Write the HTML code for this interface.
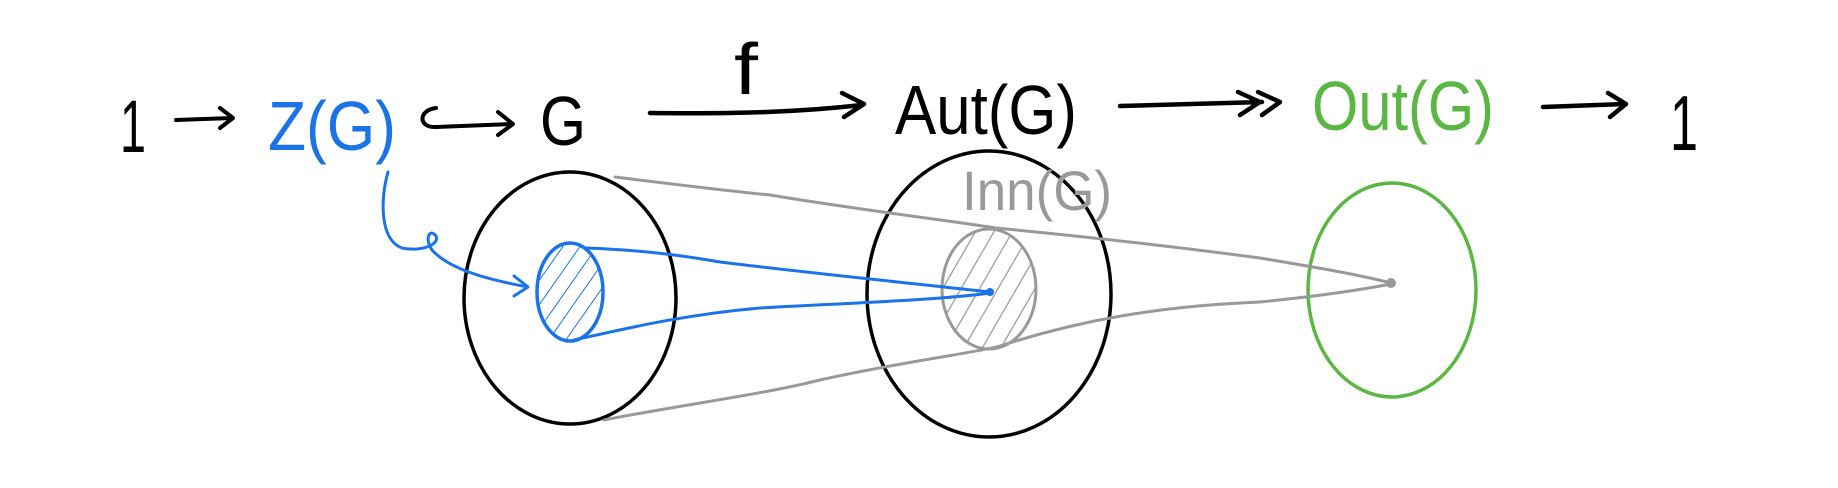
<!DOCTYPE html>
<html><head><meta charset="utf-8"><style>
html,body{margin:0;padding:0;background:#fff;}
svg{display:block;}
text{font-family:"Liberation Sans",sans-serif;}
</style></head><body>
<svg width="1838" height="488" viewBox="0 0 1838 488" xmlns="http://www.w3.org/2000/svg">
<defs>
<pattern id="hb" patternUnits="userSpaceOnUse" width="14" height="14" patternTransform="rotate(35)">
<line x1="0" y1="0" x2="0" y2="14" stroke="#1a73e8" stroke-width="2"/></pattern>
<pattern id="hg" patternUnits="userSpaceOnUse" width="16" height="16" patternTransform="rotate(30)">
<line x1="0" y1="0" x2="0" y2="16" stroke="#999" stroke-width="2.5"/></pattern>
</defs>
<g fill="none" stroke-linecap="round" stroke-linejoin="round">
<text x="120" y="152" font-size="74" fill="#000" stroke="none" textLength="26" lengthAdjust="spacingAndGlyphs">1</text>
<path d="M176 120 L232 118 M220 108 L233 118 L220 128" stroke="#000" stroke-width="4"/>
<text x="268" y="150" font-size="70" fill="#1a73e8" stroke="none" textLength="128" lengthAdjust="spacingAndGlyphs">Z(G)</text>
<path d="M436 108 C418 110 418 128 436 127 L512 124 M498 112 L513 124 L498 135" stroke="#000" stroke-width="4"/>
<text x="540" y="145" font-size="70" fill="#000" stroke="none" textLength="46" lengthAdjust="spacingAndGlyphs">G</text>
<text x="734" y="94" font-size="72" fill="#000" stroke="none" textLength="24" lengthAdjust="spacingAndGlyphs">f</text>
<path d="M650 113 C740 114 800 112 862 105 M842 93 L864 104 L844 117" stroke="#000" stroke-width="4.5"/>
<text x="895" y="134" font-size="70" fill="#000" stroke="none" textLength="182" lengthAdjust="spacingAndGlyphs">Aut(G)</text>
<path d="M1120 106 L1262 102 M1238 92 L1260 102 L1240 115 M1258 92 L1280 102 L1262 115" stroke="#000" stroke-width="4.5"/>
<text x="1312" y="130" font-size="70" fill="#5bb744" stroke="none" textLength="182" lengthAdjust="spacingAndGlyphs">Out(G)</text>
<path d="M1543 107 L1625 104 M1608 93 L1626 104 L1610 117" stroke="#000" stroke-width="4.5"/>
<text x="1670" y="150" font-size="78" fill="#000" stroke="none" textLength="28" lengthAdjust="spacingAndGlyphs">1</text>

<ellipse cx="570" cy="298" rx="106" ry="126" stroke="#000" stroke-width="3.5"/>
<ellipse cx="989" cy="294" rx="122" ry="143" stroke="#000" stroke-width="3.5"/>
<ellipse cx="1392" cy="290" rx="84" ry="107" stroke="#5bb744" stroke-width="3.5"/>
<ellipse cx="570" cy="292" rx="33" ry="49" fill="url(#hb)" stroke="#1a73e8" stroke-width="3.5"/>
<ellipse cx="989" cy="289" rx="47" ry="60" fill="url(#hg)" stroke="#999" stroke-width="3"/>
<text x="962" y="210" font-size="56" fill="#999" stroke="none" textLength="150" lengthAdjust="spacingAndGlyphs">Inn(G)</text>
<path d="M615 177 C680 185 720 190 770 195 C860 210 960 222 996 228 C1100 238 1200 250 1260 258 C1320 268 1360 275 1391 283" stroke="#999" stroke-width="3"/>
<path d="M604 420 C680 405 760 395 820 380 C900 362 980 352 1000 346 C1080 320 1160 306 1260 302 C1320 296 1360 290 1391 284" stroke="#999" stroke-width="3"/>
<circle cx="1391" cy="283" r="5" fill="#999" stroke="none"/>
<path d="M586 248 C640 250 680 255 720 262 C800 272 900 282 990 292" stroke="#1a73e8" stroke-width="3"/>
<path d="M574 340 C620 330 680 315 760 308 C850 303 940 300 990 293" stroke="#1a73e8" stroke-width="3"/>
<circle cx="990" cy="292" r="4" fill="#1a73e8" stroke="none"/>
<path d="M388 172 C380 200 380 240 402 248 C420 252 440 245 436 236 C430 228 424 238 432 250 C450 270 490 280 528 287 M514 276 L528 287 L514 296" stroke="#1a73e8" stroke-width="3"/>
</g>
</svg>
</body></html>
